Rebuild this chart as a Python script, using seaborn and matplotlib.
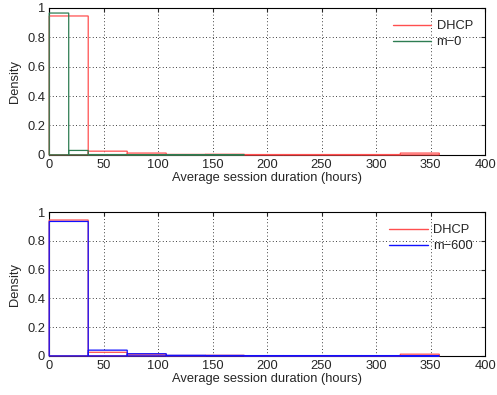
import numpy as np
import pandas as pd
import matplotlib
matplotlib.use("Agg")
import matplotlib.pyplot as plt
from matplotlib.lines import Line2D
import seaborn as sns

# ------------------------------------------
# Data (bin densities)
# ------------------------------------------

dhcp_edges = list(np.linspace(0, 358, 11))
dhcp_density = [0.945, 0.025, 0.012, 0.003, 0.004, 0.002, 0.002, 0.002, 0.002, 0.012]

m0_edges = list(np.linspace(0, 179, 11))
m0_density = [0.965, 0.030, 0.002, 0.002, 0.001, 0.001, 0.001, 0.001, 0.001, 0.001]

m600_edges = list(np.linspace(0, 358, 11))
m600_density = [0.935, 0.040, 0.015, 0.004, 0.003, 0.002, 0.002, 0.002, 0.002, 0.001]

xticks = [0, 50, 100, 150, 200, 250, 300, 350, 400]
yticks = [0, 0.2, 0.4, 0.6, 0.8, 1]
ytick_labels = ["0", "0.2", "0.4", "0.6", "0.8", "1"]

sns.set_style("white")
plt.rcParams["font.family"] = ["Liberation Sans", "DejaVu Sans"]
plt.rcParams["font.size"] = 9.3
plt.rcParams["path.simplify"] = False

RED = "#ff4f4f"


def bin_frame(edges, dens, name):
    e = np.array(edges)
    centers = (e[:-1] + e[1:]) / 2
    return pd.DataFrame({"x": centers, "w": dens, "series": name})


def draw(ax, edges2, dens2, name2, color2):
    d1 = bin_frame(dhcp_edges, dhcp_density, "DHCP")
    d2 = bin_frame(edges2, dens2, name2)
    sns.histplot(data=d1, x="x", weights="w", bins=dhcp_edges, stat="count",
                 element="bars", fill=False, color=RED, linewidth=0.9, ax=ax)
    sns.histplot(data=d2, x="x", weights="w", bins=edges2, stat="count",
                 element="bars", fill=False, color=color2, linewidth=0.9, ax=ax)
    for p in ax.patches:
        p.set_zorder(3)
        p.set_clip_on(False)
        p.set_snap(False)
    ax.set_xlim(0, 400)
    ax.set_ylim(0, 1)
    ax.set_xticks(xticks)
    ax.set_yticks(yticks)
    ax.set_yticklabels(ytick_labels)
    ax.set_xlabel("Average session duration (hours)", labelpad=1)
    ax.set_ylabel("Density", labelpad=4)
    ax.grid(True, linestyle=(0, (1, 3)), color="black", linewidth=0.6)
    ax.tick_params(direction="in", length=3, top=True, right=True,
                   labeltop=False, labelright=False, pad=3)
    for s in ax.spines.values():
        s.set_color("black")
        s.set_linewidth(0.8)
    handles = [Line2D([], [], color=RED, lw=1.0),
               Line2D([], [], color=color2, lw=1.0)]
    ax.legend(handles, ["DHCP", name2], loc="upper right", frameon=False,
              handlelength=3.0, borderaxespad=0.55, handletextpad=0.4,
              labelspacing=0.3)


fig = plt.figure(figsize=(4.97, 3.95), dpi=100)
ax1 = fig.add_axes([0.099, 0.608, 0.877, 0.372])
ax2 = fig.add_axes([0.099, 0.099, 0.877, 0.364])

draw(ax1, m0_edges, m0_density, "m\u22120", "#2e7d52")
draw(ax2, m600_edges, m600_density, "m\u2212600", "#1010ff")

fig.savefig("out.png", dpi=100)
